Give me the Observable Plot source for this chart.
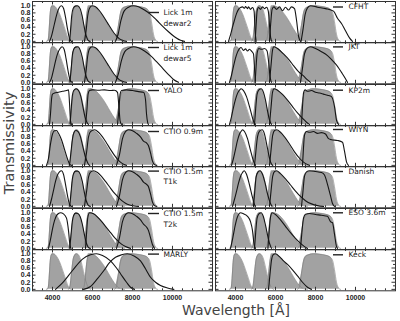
<!DOCTYPE html>
<html><head><meta charset="utf-8">
<script src="https://cdn.jsdelivr.net/npm/d3@7"></script>
<script src="https://cdn.jsdelivr.net/npm/@observablehq/plot@0.6"></script>
<style>
body{margin:0;background:#fff;}
#chart{position:relative;width:400px;height:321px;overflow:hidden;font-family:"Liberation Sans",sans-serif;}
#chart svg{position:absolute;}
#ytitle{position:absolute;left:9px;top:143px;transform:translate(-50%,-50%) rotate(-90deg);font:14.5px "DejaVu Sans",sans-serif;color:#444;white-space:nowrap;}
#xtitle{position:absolute;left:236px;top:310px;transform:translate(-50%,-50%);font:14px "DejaVu Sans",sans-serif;color:#444;white-space:nowrap;}
</style></head><body>
<div id="chart"><div id="ytitle">Transmissivity</div><div id="xtitle">Wavelength [Å]</div></div>
<script>
// ---- tick values ----
const yLabels = [0, 0.2, 0.4, 0.6, 0.8, 1.0];
const yMinor = [0.1, 0.3, 0.5, 0.7, 0.9];
const xLabels = [4000, 6000, 8000, 10000];
const xMinor = [3500, 4500, 5000, 5500, 6500, 7000, 7500, 8500, 9000, 9500, 10500, 11000, 11500];

// ---- reference (gray) filters: [wavelength, transmission] ----
const refB = [[3700,0],[3780,0.03],[3830,0.3],[3880,0.75],[3930,0.95],[4000,1.0],[4100,0.99],[4200,0.93],[4350,0.78],[4500,0.55],[4650,0.3],[4750,0.13],[4850,0.03],[4950,0]];
const refV = [[4800,0],[4880,0.1],[4950,0.45],[5020,0.8],[5100,0.95],[5200,1.0],[5300,0.97],[5400,0.85],[5500,0.62],[5600,0.38],[5700,0.17],[5800,0.05],[5900,0]];
const refR = [[5500,0],[5580,0.08],[5650,0.4],[5720,0.78],[5800,0.95],[5900,1.0],[6000,0.99],[6200,0.92],[6400,0.8],[6600,0.64],[6800,0.45],[7000,0.26],[7200,0.1],[7400,0.02],[7600,0]];
const refI = [[7100,0],[7200,0.08],[7300,0.45],[7400,0.78],[7500,0.92],[7650,0.97],[7900,1.0],[8200,0.99],[8500,0.96],[8700,0.92],[8850,0.82],[8950,0.55],[9050,0.2],[9150,0.04],[9250,0]];

// ---- Lick 1m dewar2 ----
const lick2B = [[3850,0],[3950,0.15],[4050,0.38],[4150,0.62],[4250,0.83],[4350,0.96],[4450,1.0],[4550,0.93],[4650,0.68],[4750,0.35],[4850,0.08],[4950,0]];
const lick2V = [[4850,0],[4900,0.3],[4960,0.72],[5030,0.92],[5130,0.99],[5250,1.0],[5380,0.92],[5480,0.72],[5580,0.42],[5680,0.16],[5780,0.03],[5880,0]];
const lick2R = [[5600,0],[5680,0.3],[5760,0.72],[5850,0.93],[5980,1.0],[6150,0.97],[6350,0.86],[6550,0.7],[6750,0.52],[6950,0.34],[7150,0.18],[7350,0.07],[7550,0.02],[7700,0]];
const lick2I = [[7150,0],[7280,0.2],[7420,0.58],[7580,0.85],[7800,0.96],[8050,1.0],[8300,0.97],[8600,0.88],[8900,0.76],[9200,0.6],[9500,0.43],[9800,0.27],[10100,0.13],[10400,0.03],[10600,0]];
// ---- Lick 1m dewar5 ----
const lick5B = [[3850,0],[3950,0.12],[4050,0.35],[4150,0.6],[4250,0.8],[4380,0.95],[4480,1.0],[4580,0.93],[4680,0.66],[4780,0.32],[4880,0.06],[4980,0]];
const lick5V = [[4870,0],[4930,0.35],[4990,0.75],[5060,0.93],[5160,0.99],[5270,1.0],[5390,0.9],[5490,0.7],[5590,0.4],[5690,0.15],[5790,0.03],[5890,0]];
const lick5R = [[5600,0],[5680,0.32],[5760,0.74],[5850,0.94],[5980,1.0],[6150,0.97],[6350,0.86],[6550,0.7],[6750,0.52],[6950,0.34],[7150,0.18],[7350,0.07],[7550,0.02],[7700,0]];
const lick5I = [[7150,0],[7300,0.25],[7450,0.62],[7600,0.85],[7800,0.95],[8050,1.0],[8300,0.97],[8600,0.88],[8900,0.75],[9200,0.58],[9500,0.4],[9800,0.22],[10050,0.08],[10300,0]];
// ---- YALO ----
const yaloB = [[3850,0],[3900,0.3],[3950,0.7],[4000,0.85],[4100,0.88],[4300,0.9],[4500,0.93],[4700,0.95],[4800,0.97],[4850,0.6],[4900,0.1],[4950,0]];
const yaloV = [[4880,0],[4930,0.4],[4990,0.8],[5060,0.95],[5180,1.0],[5300,0.95],[5420,0.78],[5520,0.5],[5620,0.22],[5720,0.06],[5800,0]];
const yaloR = [[5650,0],[5720,0.4],[5780,0.85],[5850,0.95],[6000,0.97],[6300,0.96],[6600,0.97],[6900,0.95],[7100,0.96],[7250,0.9],[7320,0.5],[7380,0.1],[7450,0]];
const yaloI = [[7250,0],[7320,0.4],[7380,0.85],[7450,0.95],[7700,0.97],[8000,0.95],[8300,0.92],[8550,0.9],[8650,0.7],[8700,0.3],[8760,0.05],[8800,0]];
// ---- CTIO 0.9m ----
const c09B = [[3700,0],[3800,0.2],[3900,0.6],[4000,0.88],[4100,0.97],[4200,0.98],[4300,0.9],[4450,0.72],[4600,0.45],[4750,0.18],[4850,0.04],[4950,0]];
const c09V = [[4850,0],[4920,0.35],[5000,0.75],[5080,0.93],[5170,0.98],[5280,0.95],[5400,0.8],[5520,0.52],[5640,0.25],[5760,0.07],[5850,0]];
const c09R = [[5600,0],[5700,0.35],[5800,0.8],[5900,0.95],[6100,1.0],[6300,0.93],[6500,0.8],[6700,0.63],[6900,0.45],[7100,0.28],[7300,0.14],[7500,0.05],[7700,0]];
const c09I = [[7200,0],[7350,0.3],[7500,0.75],[7650,0.95],[7800,1.0],[8000,0.97],[8200,0.9],[8400,0.8],[8550,0.68],[8700,0.63],[8800,0.55],[8900,0.35],[9000,0.12],[9100,0.02],[9200,0]];
// ---- CTIO 1.5m T1k ----
const c1kB = [[3850,0],[3950,0.2],[4050,0.45],[4150,0.7],[4250,0.88],[4350,0.97],[4450,1.0],[4550,0.9],[4650,0.62],[4750,0.3],[4850,0.06],[4950,0]];
const c1kV = [[4860,0],[4920,0.35],[4990,0.76],[5060,0.93],[5160,0.99],[5270,0.99],[5390,0.9],[5490,0.7],[5590,0.4],[5690,0.15],[5790,0.03],[5890,0]];
const c1kR = [[5600,0],[5700,0.4],[5800,0.82],[5900,0.96],[6050,1.0],[6250,0.95],[6450,0.84],[6650,0.7],[6850,0.55],[7050,0.4],[7250,0.28],[7450,0.17],[7650,0.09],[7850,0.04],[8100,0.01],[8300,0]];
const c1kI = [[7200,0],[7350,0.3],[7500,0.75],[7650,0.95],[7800,1.0],[8000,0.97],[8200,0.9],[8400,0.8],[8550,0.68],[8700,0.62],[8800,0.55],[8900,0.35],[9000,0.12],[9100,0.02],[9200,0]];
// ---- CTIO 1.5m T2k ----
const c2kB = [[3800,0],[3900,0.25],[4000,0.55],[4100,0.78],[4200,0.92],[4300,0.98],[4400,1.0],[4550,0.97],[4700,0.85],[4800,0.5],[4870,0.1],[4920,0]];
const c2kV = [[4860,0],[4920,0.35],[4990,0.76],[5060,0.93],[5160,0.99],[5270,0.98],[5390,0.88],[5490,0.68],[5590,0.4],[5690,0.15],[5790,0.03],[5890,0]];
const c2kR = [[5650,0],[5700,0.4],[5760,0.85],[5850,1.0],[6050,0.97],[6250,0.88],[6450,0.76],[6650,0.62],[6850,0.48],[7050,0.34],[7250,0.22],[7450,0.12],[7650,0.05],[7900,0]];
const c2kI = [[7200,0],[7350,0.3],[7500,0.75],[7650,0.95],[7800,1.0],[8000,0.97],[8200,0.9],[8400,0.8],[8550,0.68],[8700,0.6],[8800,0.5],[8900,0.3],[9000,0.1],[9100,0]];
// ---- MARLY ----
const marly1 = [[4150,0],[4500,0.18],[5000,0.53],[5500,0.85],[5900,0.97],[6200,1.0],[6500,0.95],[6900,0.8],[7200,0.6],[7400,0.44],[7700,0.2],[7900,0.06],[8100,0]];
const marly2 = [[5550,0],[5900,0.08],[6250,0.3],[6570,0.53],[6850,0.75],[7150,0.9],[7450,0.97],[7730,1.0],[8100,0.93],[8400,0.8],[8650,0.58],[8900,0.34],[9150,0.2],[9400,0.11],[9750,0.04],[10070,0]];
// ---- CFHT ----
const cfhtB = [[3650,0],[3750,0.18],[3850,0.4],[3950,0.6],[4050,0.78],[4150,0.9],[4250,0.95],[4350,0.97],[4450,0.93],[4500,0.98],[4600,0.92],[4650,0.97],[4750,0.9],[4850,0.95],[4930,0.85],[4980,0.3],[5030,0]];
const cfhtV = [[4980,0],[5030,0.45],[5080,0.85],[5150,0.95],[5250,0.9],[5350,0.97],[5450,0.92],[5550,0.96],[5640,0.85],[5700,0.45],[5760,0.1],[5820,0]];
const cfhtR = [[5700,0],[5760,0.5],[5830,0.9],[5920,0.97],[6050,0.9],[6200,0.97],[6350,0.86],[6500,0.96],[6650,0.88],[6800,0.97],[6950,0.92],[7050,0.6],[7150,0.15],[7250,0]];
const cfhtI = [[7280,0],[7380,0.35],[7480,0.75],[7600,0.94],[7750,1.0],[8100,0.96],[8500,0.92],[8900,0.85],[9100,0.65],[9300,0.5],[9500,0.3],[9700,0.1],[9850,0]];
// ---- JKT ----
const jktB = [[3700,0],[3800,0.2],[3900,0.45],[4000,0.68],[4100,0.85],[4200,0.95],[4280,0.98],[4400,0.9],[4500,0.94],[4600,0.88],[4700,0.93],[4800,0.88],[4900,0.8],[4960,0.3],[5000,0]];
const jktV = [[4980,0],[5030,0.45],[5090,0.85],[5170,0.95],[5300,0.93],[5450,0.95],[5580,0.88],[5660,0.55],[5730,0.15],[5800,0]];
const jktR = [[5700,0],[5780,0.5],[5850,0.9],[5920,1.0],[6100,0.95],[6400,0.8],[6700,0.62],[6900,0.47],[7150,0.3],[7400,0.18],[7600,0.07],[7750,0]];
const jktI = [[7250,0],[7350,0.4],[7450,0.8],[7600,0.97],[7750,1.0],[8000,0.95],[8300,0.86],[8600,0.75],[8900,0.58],[9100,0.45],[9300,0.28],[9500,0.1],[9600,0]];
// ---- KP2m ----
const kpB = [[3700,0],[3800,0.22],[3900,0.48],[4000,0.7],[4100,0.87],[4200,0.96],[4280,1.0],[4400,0.95],[4550,0.78],[4700,0.5],[4850,0.18],[4950,0]];
const kpV = [[4950,0],[5010,0.45],[5080,0.85],[5170,0.97],[5280,1.0],[5400,0.9],[5500,0.68],[5600,0.38],[5700,0.12],[5800,0]];
const kpR = [[5700,0],[5780,0.5],[5850,0.9],[5930,1.0],[6100,0.96],[6350,0.84],[6600,0.68],[6850,0.5],[7100,0.32],[7350,0.17],[7550,0.06],[7700,0]];
const kpI = [[7300,0],[7350,0.5],[7400,0.88],[7480,0.97],[7600,0.93],[7800,0.95],[8000,0.9],[8200,0.88],[8400,0.85],[8600,0.82],[8800,0.78],[8950,0.5],[9050,0.12],[9150,0]];
// ---- WIYN ----
const wiynB = [[3800,0],[3900,0.2],[4000,0.45],[4100,0.7],[4200,0.88],[4300,0.97],[4350,1.0],[4450,0.95],[4600,0.75],[4750,0.42],[4900,0.12],[5000,0]];
const wiynV = [[4950,0],[5020,0.4],[5100,0.8],[5200,0.96],[5330,1.0],[5450,0.88],[5550,0.62],[5650,0.33],[5750,0.1],[5850,0]];
const wiynR = [[5700,0],[5780,0.45],[5860,0.85],[5950,0.98],[6050,1.0],[6250,0.93],[6450,0.8],[6700,0.6],[6950,0.38],[7200,0.2],[7450,0.07],[7700,0]];
const wiynI = [[7350,0],[7400,0.5],[7450,0.85],[7550,0.95],[7700,0.93],[7900,0.95],[8100,0.9],[8300,0.92],[8500,0.88],[8650,0.75],[8800,0.72],[9100,0.7],[9350,0.65],[9450,0.4],[9550,0.1],[9650,0]];
// ---- Danish ----
const danB = [[3850,0],[3950,0.2],[4050,0.42],[4150,0.65],[4250,0.84],[4350,0.95],[4430,1.0],[4550,0.9],[4700,0.6],[4850,0.25],[4950,0.05],[5000,0]];
const danV = [[4900,0],[4960,0.4],[5030,0.82],[5120,0.96],[5230,1.0],[5350,0.9],[5480,0.65],[5600,0.35],[5720,0.12],[5830,0]];
const danR = [[5700,0],[5780,0.45],[5860,0.85],[5950,0.98],[6050,1.0],[6250,0.92],[6500,0.77],[6750,0.6],[7000,0.43],[7250,0.28],[7500,0.16],[7800,0.07],[8100,0.02],[8400,0]];
const danI = [[7300,0],[7370,0.4],[7450,0.85],[7550,0.97],[7700,1.0],[8000,0.98],[8300,0.95],[8450,0.88],[8600,0.62],[8750,0.3],[8850,0.08],[8950,0]];
// ---- ESO 3.6m ----
const esoB = [[3750,0],[3850,0.25],[3950,0.55],[4050,0.8],[4150,0.95],[4250,1.0],[4400,0.97],[4600,0.9],[4750,0.75],[4850,0.5],[4920,0.15],[4980,0]];
const esoV = [[4950,0],[5010,0.45],[5080,0.85],[5170,0.97],[5280,1.0],[5400,0.88],[5500,0.65],[5600,0.38],[5700,0.14],[5800,0]];
const esoR = [[5620,0],[5680,0.45],[5750,0.88],[5830,1.0],[6000,0.95],[6250,0.8],[6500,0.62],[6750,0.44],[7000,0.28],[7250,0.14],[7450,0.05],[7600,0]];
const esoI = [[7250,0],[7320,0.45],[7400,0.85],[7500,0.96],[7700,0.98],[8000,0.95],[8300,0.93],[8600,0.9],[8750,0.75],[8850,0.72],[8950,0.4],[9050,0.05],[9100,0]];
// ---- Keck ----
const keckR = [[5650,0],[5720,0.4],[5800,0.82],[5880,0.97],[6000,1.0],[6200,0.92],[6400,0.8],[6600,0.7],[6850,0.55],[7100,0.38],[7350,0.2],[7600,0.06],[7800,0]];

const refCurves = [refB, refV, refR, refI];
const panels = [
  {col:0,row:0,label:["Lick 1m","dewar2"],off:[11,22],curves:[lick2B,lick2V,lick2R,lick2I]},
  {col:0,row:1,label:["Lick 1m","dewar5"],off:[5,16],curves:[lick5B,lick5V,lick5R,lick5I]},
  {col:0,row:2,label:["YALO"],off:[6],curves:[yaloB,yaloV,yaloR,yaloI]},
  {col:0,row:3,label:["CTIO 0.9m"],off:[6],curves:[c09B,c09V,c09R,c09I]},
  {col:0,row:4,label:["CTIO 1.5m","T1k"],off:[4.6,14.6],curves:[c1kB,c1kV,c1kR,c1kI]},
  {col:0,row:5,label:["CTIO 1.5m","T2k"],off:[5,16],curves:[c2kB,c2kV,c2kR,c2kI]},
  {col:0,row:6,label:["MARLY"],off:[4.6],curves:[marly1,marly2]},
  {col:1,row:0,label:["CFHT"],off:[5.5],curves:[cfhtB,cfhtV,cfhtR,cfhtI]},
  {col:1,row:1,label:["JKT"],off:[4.4],curves:[jktB,jktV,jktR,jktI]},
  {col:1,row:2,label:["KP2m"],off:[5.7],curves:[kpB,kpV,kpR,kpI]},
  {col:1,row:3,label:["WIYN"],off:[4],curves:[wiynB,wiynV,wiynR,wiynI]},
  {col:1,row:4,label:["Danish"],off:[5],curves:[danB,danV,danR,danI]},
  {col:1,row:5,label:["ESO 3.6m"],off:[4.3],curves:[esoB,esoV,esoR,esoI]},
  {col:1,row:6,label:["Keck"],off:[5.3],curves:[keckR]}
];

const ROW_H = 41.3, TOP = 1, X0 = 3000, X1 = 12000, Y0 = -0.04, Y1 = 1.12;
const PW = 180; // plot width px
const pxX = (X1 - X0) / PW, pxY = (Y1 - Y0) / ROW_H;
const toRows = (arr) => arr.flatMap((c, k) => c.map(([w, t]) => ({w, t, k})));
const ref = toRows(refCurves);
const chart = document.getElementById("chart");

for (const p of panels) {
  const left = p.col === 0, bottom = p.row === 6;
  const blk = toRows(p.curves);
  const ml = left ? 32 : 2, mr = left ? 2 : 5;
  const W = ml + PW + mr;
  const mb = bottom ? 15 : 1;
  const H = ROW_H + 1 + mb;
  const yAt = off => Y1 - off * pxY;
  const lx1 = left ? 8800 : 8900, lx2 = left ? 9350 : 9400, tx = left ? 9550 : 9650;
  const svg = Plot.plot({
    width: W, height: H,
    marginLeft: ml, marginRight: mr, marginTop: 1, marginBottom: mb,
    x: {domain: [X0, X1], axis: bottom ? "bottom" : null, ticks: xLabels, tickFormat: d3.format("d"), tickSize: 0, tickPadding: 4, label: null},
    y: {domain: [Y0, Y1], axis: left ? "left" : null, ticks: yLabels, tickFormat: d3.format(".1f"), tickSize: 0, tickPadding: 2, label: null},
    style: {background: "transparent", fontSize: "7px", fontWeight: "bold", fontFamily: "Liberation Sans, sans-serif", color: "#222", overflow: "visible"},
    marks: [
      Plot.areaY(ref, {x: "w", y: "t", z: "k", fill: "#a2a2a2", curve: "monotone-x"}),
      Plot.lineY(ref, {x: "w", y: "t", z: "k", stroke: "#7a7a7a", strokeWidth: 0.6, curve: "monotone-x"}),
      Plot.lineY(blk, {x: "w", y: "t", z: "k", stroke: "#151515", strokeWidth: 1.1, curve: "monotone-x"}),
      Plot.frame({stroke: "#333", strokeWidth: 1}),
      Plot.ruleY(yLabels, {x1: X0, x2: X0 + 3.5 * pxX, stroke: "#333"}),
      Plot.ruleY(yLabels, {x1: X1 - 3.5 * pxX, x2: X1, stroke: "#333"}),
      Plot.ruleY(yMinor, {x1: X0, x2: X0 + 2 * pxX, stroke: "#333"}),
      Plot.ruleY(yMinor, {x1: X1 - 2 * pxX, x2: X1, stroke: "#333"}),
      Plot.ruleX(xLabels, {y1: Y0, y2: Y0 + 3.5 * pxY, stroke: "#333"}),
      Plot.ruleX(xLabels, {y1: Y1 - 3.5 * pxY, y2: Y1, stroke: "#333"}),
      Plot.ruleX(xMinor, {y1: Y0, y2: Y0 + 2 * pxY, stroke: "#333"}),
      Plot.ruleX(xMinor, {y1: Y1 - 2 * pxY, y2: Y1, stroke: "#333"}),
      Plot.ruleY([yAt(p.off[0])], {x1: lx1, x2: lx2, stroke: "#222", strokeWidth: 1.4}),
      Plot.text(p.label, {x: tx, y: (d, i) => yAt(p.off[i]), text: d => d, textAnchor: "start", fontSize: 7.5, fontWeight: "normal", fontFamily: "DejaVu Sans, sans-serif", fill: "#222"})
    ]
  });
  svg.style.left = (left ? 0 : 213) + "px";
  svg.style.top = (TOP + p.row * ROW_H - 1) + "px";
  chart.appendChild(svg);
}
</script>
</body></html>
